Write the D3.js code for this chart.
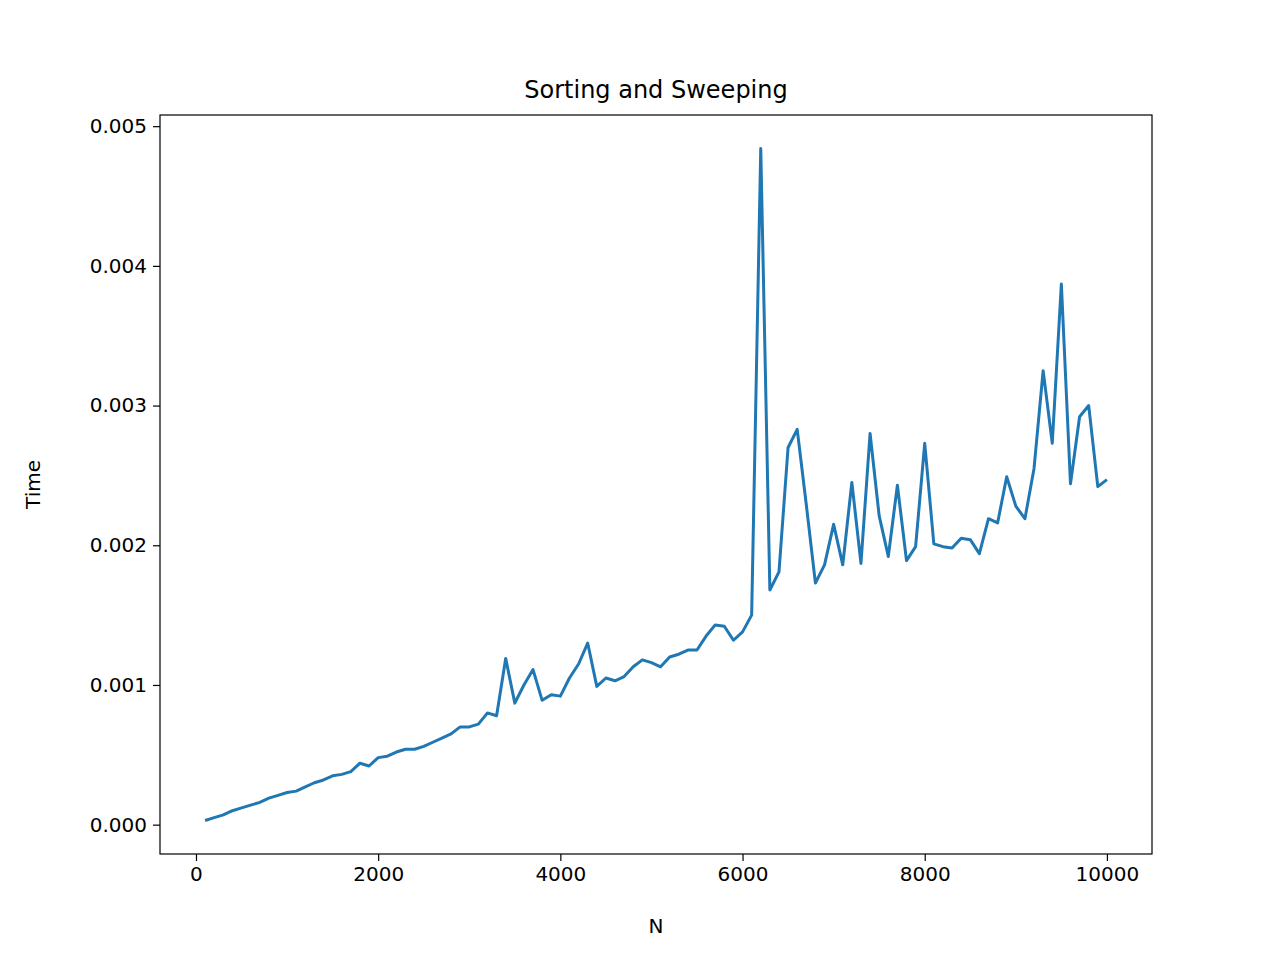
<!DOCTYPE html>
<html><head><meta charset="utf-8">
<script src="https://cdn.jsdelivr.net/npm/d3@7"></script>
<style>body{margin:0;background:#fff}svg text{font-family:"DejaVu Sans" !important}</style>
</head><body>
<svg id="chart" width="1280" height="960"></svg>
<script>
const nValues = d3.range(100, 10001, 100);
const timeValues = [
  0.00003,0.00005,0.00007,0.0001,0.00012,0.00014,0.00016,0.00019,0.00021,0.00023,
  0.00024,0.00027,0.0003,0.00032,0.00035,0.00036,0.00038,0.00044,0.00042,0.00048,
  0.00049,0.00052,0.00054,0.00054,0.00056,0.00059,0.00062,0.00065,0.0007,0.0007,
  0.00072,0.0008,0.00078,0.00119,0.00087,0.001,0.00111,0.00089,0.00093,0.00092,
  0.00105,0.00115,0.0013,0.00099,0.00105,0.00103,0.00106,0.00113,0.00118,0.00116,
  0.00113,0.0012,0.00122,0.00125,0.00125,0.00135,0.00143,0.00142,0.00132,0.00138,
  0.0015,0.00484,0.00168,0.00181,0.0027,0.00283,0.00229,0.00173,0.00186,0.00215,
  0.00186,0.00245,0.00187,0.0028,0.00221,0.00192,0.00243,0.00189,0.00199,0.00273,
  0.00201,0.00199,0.00198,0.00205,0.00204,0.00194,0.00219,0.00216,0.00249,0.00228,
  0.00219,0.00255,0.00325,0.00273,0.00387,0.00244,0.00292,0.003,0.00242,0.00247
];
const xTicks = [0, 2000, 4000, 6000, 8000, 10000];
const yTicks = [0, 0.001, 0.002, 0.003, 0.004, 0.005];

const margin = {top: 115, right: 128, bottom: 106, left: 160};
const width = 1280, height = 960;
const svg = d3.select('#chart');

const x = d3.scaleLinear().domain([-395, 10495]).range([margin.left, width - margin.right]);
const y = d3.scaleLinear().domain([-0.00021, 0.00508]).range([height - margin.bottom, margin.top]);

const xAxis = svg.append('g')
  .attr('transform', `translate(0,${height - margin.bottom})`)
  .call(d3.axisBottom(x).tickValues(xTicks).tickFormat(d3.format('d')).tickSize(7).tickPadding(6));
const yAxis = svg.append('g')
  .attr('transform', `translate(${margin.left},0)`)
  .call(d3.axisLeft(y).tickValues(yTicks).tickFormat(d3.format('.3f')).tickSize(7).tickPadding(6));
[xAxis, yAxis].forEach(a => {
  a.select('.domain').remove();
  a.selectAll('text').style('font-size', '20px').attr('fill', '#000');
  a.selectAll('line').attr('stroke', '#000').attr('stroke-width', 1.2);
});

svg.append('path')
  .datum(nValues.map((n, i) => [n, timeValues[i]]))
  .attr('fill', 'none')
  .attr('stroke', '#1f77b4')
  .attr('stroke-width', 3)
  .attr('stroke-linejoin', 'round')
  .attr('d', d3.line().x(d => x(d[0])).y(d => y(d[1])));

svg.append('rect')
  .attr('x', margin.left).attr('y', margin.top)
  .attr('width', width - margin.left - margin.right)
  .attr('height', height - margin.top - margin.bottom)
  .attr('fill', 'none').attr('stroke', '#000').attr('stroke-width', 1.2);

svg.append('text').attr('x', (margin.left + width - margin.right) / 2).attr('y', 98)
  .attr('text-anchor', 'middle').style('font-size', '24px').text('Sorting and Sweeping');
svg.append('text').attr('x', (margin.left + width - margin.right) / 2).attr('y', 933)
  .attr('text-anchor', 'middle').style('font-size', '20px').text('N');
svg.append('text').attr('transform', `translate(40,${(margin.top + height - margin.bottom) / 2}) rotate(-90)`)
  .attr('text-anchor', 'middle').style('font-size', '20px').text('Time');
</script>
</body></html>
